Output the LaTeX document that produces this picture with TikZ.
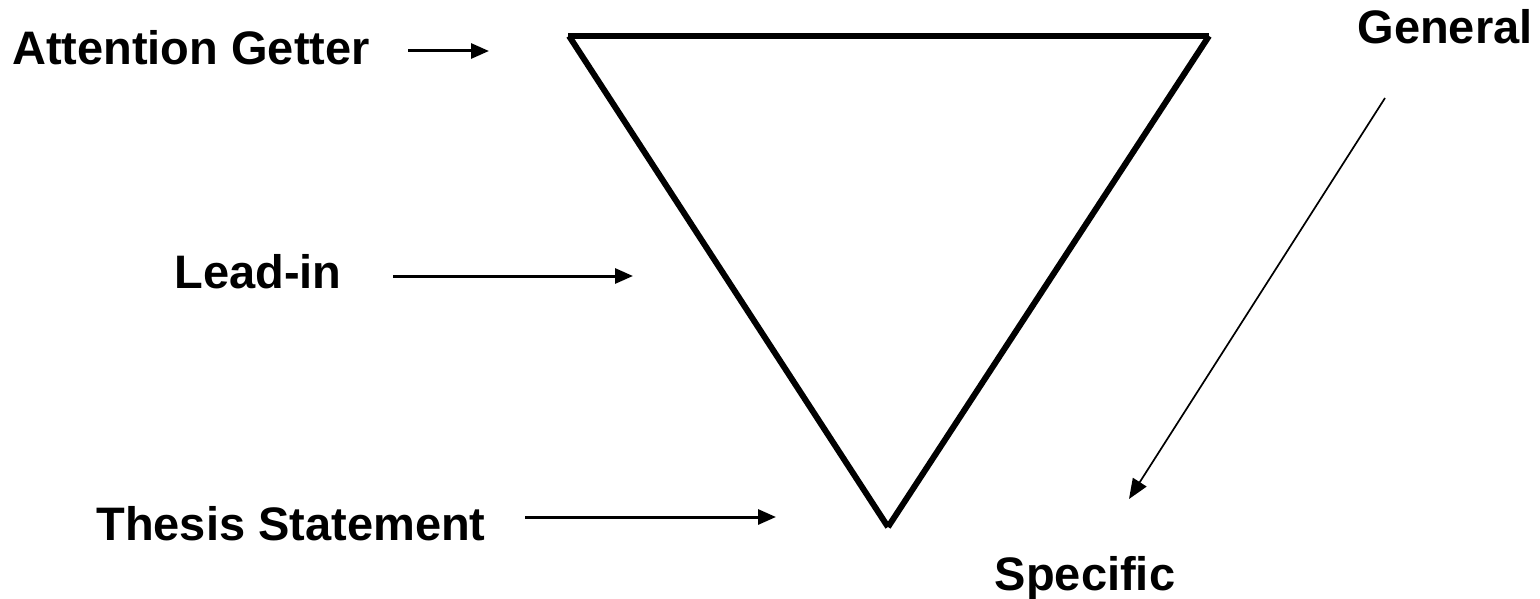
\documentclass[tikz,border=0pt]{standalone}
\usepackage{fontspec}
\setmainfont{Liberation Sans}
\usetikzlibrary{arrows.meta}
\begin{document}
\begin{tikzpicture}[x=1pt,y=-1pt,
  lbl/.style={font=\fontsize{47}{50}\selectfont\bfseries, inner sep=0pt, anchor=base},
  tri/.style={line width=6pt, line cap=butt},
  harrow/.style={line width=3pt, -{Triangle[length=18pt,width=15pt]}},
  darrow/.style={line width=1.7pt, -{Triangle[length=20pt,width=16pt]}}]
\useasboundingbox (0,0) rectangle (1540,599);
% triangle
\coordinate (TL) at (568,36);
\coordinate (TR) at (1209,36);
\coordinate (B) at (888,527);
\draw[tri] (TL) -- (TR);
\draw[tri] ([xshift=1pt]TL) -- (B);
\draw[tri] (TR) -- (B);
% labels
\node[lbl] (att) at (191,65) {Attention Getter};
\node[lbl] (lead) at (258,288) {Lead-in};
\node[lbl] (thesis) at (291,540) {Thesis Statement};
\node[lbl] (gen) at (1445,44) {General};
\node[lbl] (spec) at (1085,590) {Specific};
% arrows
\coordinate (a1s) at (408,51);
\coordinate (a1e) at (489,51);
\coordinate (a2s) at (393,276);
\coordinate (a2e) at (633,276);
\coordinate (a3s) at (525,517);
\coordinate (a3e) at (776,517);
\coordinate (a4s) at (1385,98);
\coordinate (a4e) at (1129,499);
\draw[harrow] (a1s) -- (a1e);
\draw[harrow] (a2s) -- (a2e);
\draw[harrow] (a3s) -- (a3e);
\draw[darrow] (a4s) -- (a4e);
\end{tikzpicture}
\end{document}
